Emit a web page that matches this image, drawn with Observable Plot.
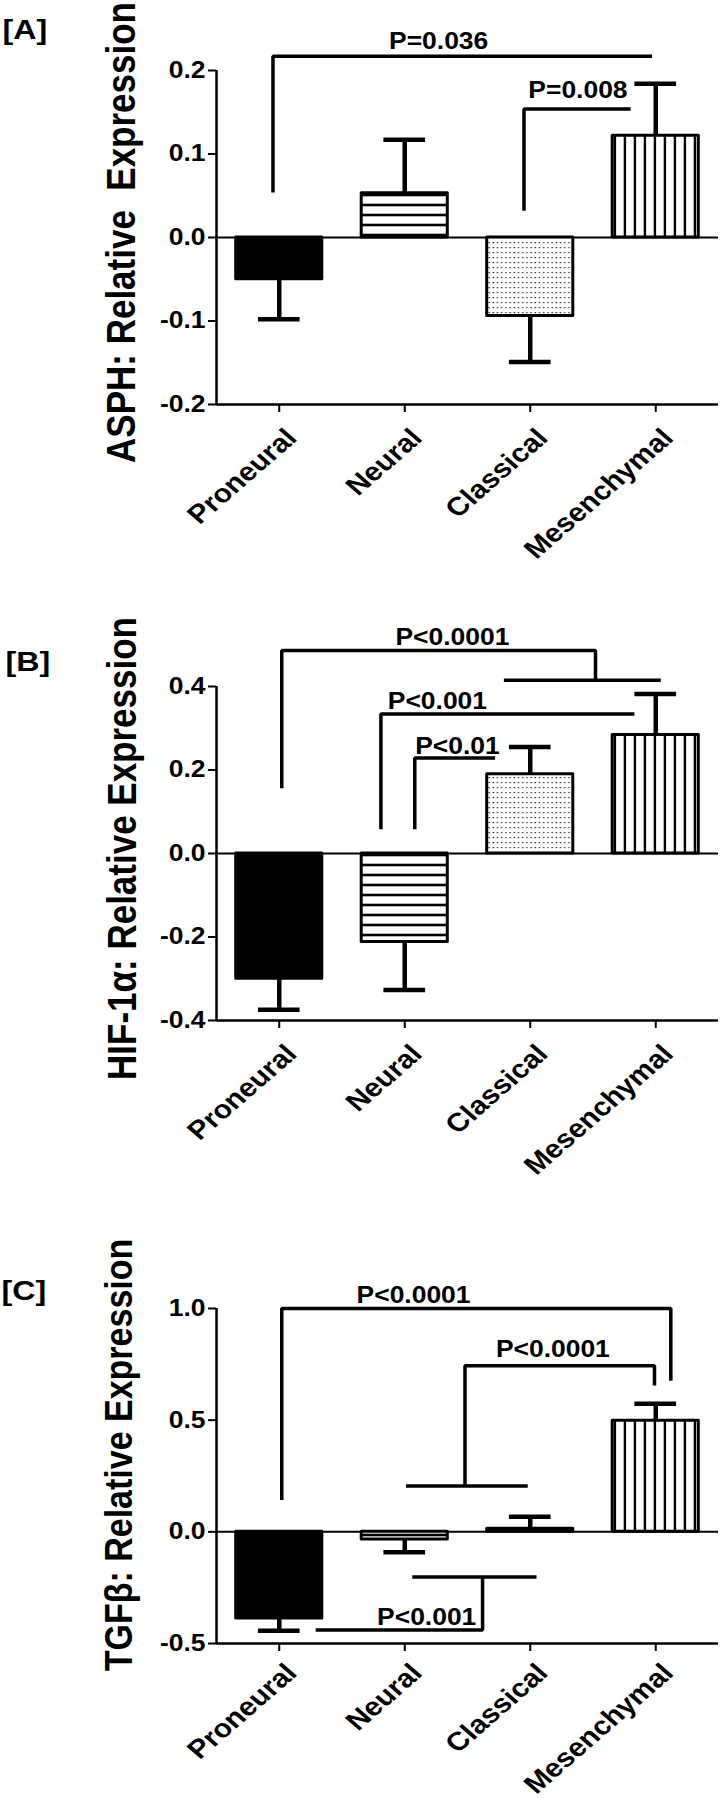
<!DOCTYPE html>
<html>
<head>
<meta charset="utf-8">
<script src="https://cdn.jsdelivr.net/npm/d3@7"></script>
<script src="https://cdn.jsdelivr.net/npm/@observablehq/plot@0.6"></script>
<style>
  html, body { margin: 0; padding: 0; background: #fff; }
  #wrap { width: 720px; }
  #wrap svg { display: block; overflow: visible; }
</style>
</head>
<body>
<div id="wrap"></div>
<script>
// ---------- data ----------
const categories = ["Proneural", "Neural", "Classical", "Mesenchymal"];
const barPatterns = ["solid", "hstripe", "dots", "vstripe"];

// Panel A: ASPH
const asphMean   = [-0.050, 0.053, -0.094, 0.122];
const asphErrEnd = [-0.098, 0.117, -0.149, 0.184];
const asphTicks  = [-0.2, -0.1, 0.0, 0.1, 0.2];
// Panel B: HIF-1α
const hifMean    = [-0.300, -0.212, 0.190, 0.284];
const hifErrEnd  = [-0.374, -0.327, 0.255, 0.382];
const hifTicks   = [-0.4, -0.2, 0.0, 0.2, 0.4];
// Panel C: TGFβ
const tgfMean    = [-0.388, -0.034, 0.014, 0.497];
const tgfErrEnd  = [-0.443, -0.091, 0.068, 0.573];
const tgfTicks   = [-0.5, 0.0, 0.5, 1.0];

// significance brackets: polylines in (category position, value)
const asphBrackets = [
  {g: "a1", pts: [[-0.05, 0.054], [-0.05, 0.217], [2.97, 0.217]]},
  {g: "a2", pts: [[1.95, 0.032], [1.95, 0.154], [2.80, 0.154]]}
];
const asphPLabels = [
  {text: "P=0.036", x: 1.27, y: 0.226},
  {text: "P=0.008", x: 2.38, y: 0.1665}
];
const hifBrackets = [
  {g: "b1", pts: [[0.02, 0.156], [0.02, 0.486], [2.52, 0.486], [2.52, 0.415]]},
  {g: "b1x", pts: [[1.79, 0.415], [3.04, 0.415]]},
  {g: "b2", pts: [[0.81, 0.058], [0.81, 0.334], [2.83, 0.334]]},
  {g: "b3", pts: [[1.08, 0.058], [1.08, 0.229], [1.72, 0.229]]}
];
const hifPLabels = [
  {text: "P<0.0001", x: 1.38, y: 0.500},
  {text: "P<0.001", x: 1.26, y: 0.346},
  {text: "P<0.01", x: 1.42, y: 0.2385}
];
const tgfBrackets = [
  {g: "c1", pts: [[0.02, 0.142], [0.02, 1.0], [3.12, 1.0], [3.12, 0.677]]},
  {g: "c2x", pts: [[1.01, 0.205], [1.98, 0.205]]},
  {g: "c2", pts: [[1.48, 0.205], [1.48, 0.744], [2.99, 0.744], [2.99, 0.655]]},
  {g: "c3x", pts: [[1.06, -0.202], [2.05, -0.202]]},
  {g: "c3", pts: [[1.62, -0.202], [1.62, -0.439], [0.29, -0.439]]}
];
const tgfPLabels = [
  {text: "P<0.0001", x: 1.07, y: 1.026},
  {text: "P<0.0001", x: 2.18, y: 0.783},
  {text: "P<0.001", x: 1.175, y: -0.416}
];

// ---------- layout ----------
const BAR_HALF = 0.343;
const CAP_HALF = 0.166;
const TEXT_STRETCH = 1.15;
const FONT = "'Liberation Sans', Arial, Helvetica, sans-serif";

const panels = [
  {id: "A", letter: "[A]", title: "ASPH: Relative\u00a0 Expression", mean: asphMean, errEnd: asphErrEnd,
   ticks: asphTicks, domain: [-0.2, 0.2], brackets: asphBrackets, labels: asphPLabels,
   height: 600, marginTop: 70, marginBottom: 196, titleDx: -94, titleDy: -5, titleSize: 35,
   letterDx: -214, letterDy: -32, catDy: 35},
  {id: "B", letter: "[B]", title: "HIF-1\u03b1: Relative Expression", mean: hifMean, errEnd: hifErrEnd,
   ticks: hifTicks, domain: [-0.4, 0.4], brackets: hifBrackets, labels: hifPLabels,
   height: 600, marginTop: 86, marginBottom: 180, titleDx: -93, titleDy: -5, titleSize: 35,
   letterDx: -211, letterDy: -16, catDy: 35},
  {id: "C", letter: "[C]", title: "TGF\u03b2: Relative Expression", mean: tgfMean, errEnd: tgfErrEnd,
   ticks: tgfTicks, domain: [-0.5, 1.0], brackets: tgfBrackets, labels: tgfPLabels,
   height: 598, marginTop: 108, marginBottom: 155, titleDx: -97, titleDy: -21, titleSize: 34,
   letterDx: -215, letterDy: -9, catDy: 31}
];

function fillFor(p, id) {
  if (p === "solid") return "black";
  return `url(#${p}-${id})`;
}

function addPatterns(svg, id) {
  const defs = d3.select(svg).insert("defs", ":first-child");
  const hs = defs.append("pattern").attr("id", `hstripe-${id}`)
    .attr("patternUnits", "userSpaceOnUse").attr("width", 10).attr("height", 10);
  hs.append("rect").attr("width", 10).attr("height", 10).attr("fill", "white");
  hs.append("rect").attr("y", 3.7).attr("width", 10).attr("height", 2.6).attr("fill", "black");
  const vs = defs.append("pattern").attr("id", `vstripe-${id}`)
    .attr("patternUnits", "userSpaceOnUse").attr("width", 10).attr("height", 10);
  vs.append("rect").attr("width", 10).attr("height", 10).attr("fill", "white");
  vs.append("rect").attr("x", 3.7).attr("width", 2.4).attr("height", 10).attr("fill", "black");
  const dt = defs.append("pattern").attr("id", `dots-${id}`)
    .attr("patternUnits", "userSpaceOnUse").attr("width", 4.2).attr("height", 5);
  dt.append("rect").attr("width", 4.2).attr("height", 5).attr("fill", "white");
  dt.append("rect").attr("x", 1.2).attr("y", 2).attr("width", 1.5).attr("height", 1.2).attr("fill", "#333");
}

function stretchText(svg) {
  svg.querySelectorAll("text").forEach((t) => {
    const tr = t.getAttribute("transform") || "";
    const m = tr.match(/^\s*translate\(([^)]*)\)(.*)$/);
    if (m) {
      t.setAttribute("transform", `translate(${m[1]}) scale(${TEXT_STRETCH},1)${m[2]}`);
    } else {
      const x = +(t.getAttribute("x") || 0), y = +(t.getAttribute("y") || 0);
      t.setAttribute("transform", `translate(${x},${y}) scale(${TEXT_STRETCH},1) translate(${-x},${-y}) ${tr}`);
    }
  });
}

const wrap = document.getElementById("wrap");

for (const P of panels) {
  const rows = categories.map((c, i) => ({
    i, cat: c, mean: P.mean[i], errEnd: P.errEnd[i], fill: fillFor(barPatterns[i], P.id)
  }));
  const bracketRows = P.brackets.flatMap((b) => b.pts.map(([x, y]) => ({g: b.g, x, y})));

  const svg = Plot.plot({
    width: 720,
    height: P.height,
    marginLeft: 216,
    marginRight: 2,
    marginTop: P.marginTop,
    marginBottom: P.marginBottom,
    style: {fontFamily: FONT, fontWeight: "bold", color: "black", background: "transparent", overflow: "visible"},
    x: {type: "linear", domain: [-0.5, categories.length - 0.5]},
    y: {domain: P.domain},
    color: {type: "identity"},
    marks: [
      // axes
      Plot.ruleY([0], {strokeWidth: 2}),
      Plot.ruleY([P.domain[0]], {strokeWidth: 2.5}),
      Plot.ruleX([-0.5], {y1: P.domain[0], y2: P.domain[1], strokeWidth: 2.5}),
      Plot.axisY({ticks: P.ticks, tickFormat: (d) => d.toFixed(1), tickSize: 8, tickPadding: 3,
                  fontSize: 23, fontWeight: "bold", strokeWidth: 2, label: null}),
      Plot.axisX({ticks: categories.map((c, i) => i), tickSize: 8, tickFormat: () => "",
                  strokeWidth: 2, label: null}),
      Plot.text(categories, {x: (d, i) => i, frameAnchor: "bottom", text: (d) => d, rotate: -45,
                  textAnchor: "end", lineAnchor: "bottom", dx: 19, dy: P.catDy, fontSize: 26, fontWeight: "bold"}),
      // bars
      Plot.ruleX(rows, {x: "i", y1: "mean", y2: "errEnd", strokeWidth: 4.5}),
      Plot.ruleY(rows, {y: "errEnd", x1: (d) => d.i - CAP_HALF, x2: (d) => d.i + CAP_HALF, strokeWidth: 4.5}),
      Plot.rect(rows, {x1: (d) => d.i - BAR_HALF, x2: (d) => d.i + BAR_HALF, y1: 0, y2: "mean",
                  fill: "fill", stroke: "black", strokeWidth: 3, strokeLinejoin: "round"}),
      // significance brackets
      Plot.line(bracketRows, {x: "x", y: "y", z: "g", strokeWidth: 3.5,
                  strokeLinejoin: "miter", strokeLinecap: "butt"}),
      Plot.text(P.labels, {x: "x", y: "y", text: "text", textAnchor: "middle", lineAnchor: "bottom",
                  fontSize: 23, fontWeight: "bold"}),
      // y title and panel letter
      Plot.text([P.title], {frameAnchor: "left", text: (d) => d, rotate: -90, textAnchor: "middle",
                  lineAnchor: "middle", dx: P.titleDx, dy: P.titleDy,
                  fontSize: P.titleSize, fontWeight: "bold"}),
      Plot.text([P.letter], {frameAnchor: "top-left", text: (d) => d, textAnchor: "start", lineAnchor: "bottom",
                  dx: P.letterDx, dy: P.letterDy, fontSize: 28, fontWeight: "bold"})
    ]
  });
  addPatterns(svg, P.id);
  stretchText(svg);
  wrap.appendChild(svg);
}
</script>
</body>
</html>
